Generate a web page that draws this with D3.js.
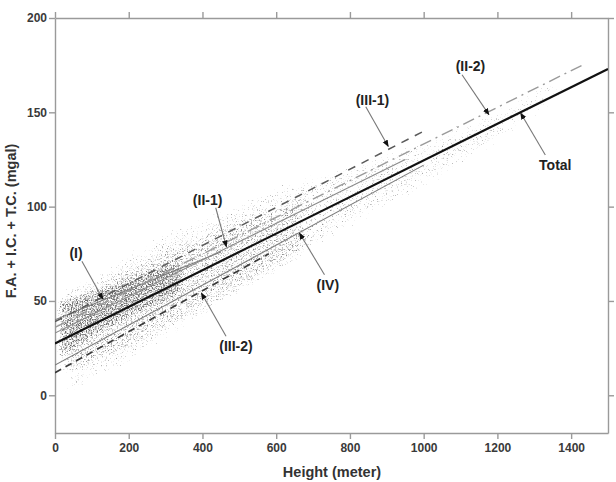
<!DOCTYPE html>
<meta charset="utf-8">
<title>F.A. + I.C. + T.C. vs Height</title>
<style>
body { margin: 0; background: #fff; }
svg text { font-family: "Liberation Sans", Arial, sans-serif; font-weight: bold; }
.axis path, .axis line { stroke: #9a9a9a; stroke-width: 1.4px; }
.axis text { fill: #3a3a3a; font-size: 12px; }
</style>
<svg id="chart" width="616" height="482"></svg>
<script src="https://cdn.jsdelivr.net/npm/d3@7"></script>
<script>
'use strict';

// axes
const xTicks = [0, 200, 400, 600, 800, 1000, 1200, 1400];
const yTicks = [0, 50, 100, 150, 200];

// regression lines: name, start/end height, start/end value
const lineNames = ["(III-2)", "(IV)", "(I)", "(II-1)", "(II-2)", "(III-1)", "Total"];
const lineH0 = [0, 0, 0, 0, 0, 0, 0];
const lineH1 = [580, 1000, 450, 950, 1430, 1000, 1500];
const lineV0 = [12, 16, 40, 33, 36, 39, 27.5];
const lineV1 = [75, 122, 76, 125, 175, 140, 173];

// envelope of the scatter cloud (outer, core, densest)
const cloudH   = [0, 50, 100, 200, 300, 400, 500, 600, 700, 800, 900, 1000, 1200, 1400];
const cloudTop = [62, 65, 70, 82, 92, 100, 108, 116, 122, 128, 134, 140, 157, 176];
const cloudBot = [-9, -4, 1, 11, 23, 35, 47, 59, 71, 83, 94, 104, 128, 158];
const coreH   = [0, 50, 100, 200, 300, 400, 500, 600, 700];
const coreTop = [57, 59, 63, 73, 82, 90, 98, 105, 111];
const coreBot = [3, 7, 12, 20, 30, 40, 51, 62, 74];
const denseH   = [0, 30, 80, 150, 250, 350];
const denseTop = [52, 53, 56, 61, 68, 75];
const denseBot = [16, 19, 25, 33, 43, 53];

// labels and arrows
const labelText = ["(I)", "(II-1)", "(II-2)", "(III-1)", "(III-2)", "(IV)", "Total"];
const labelH = [57, 414, 1127, 861, 491, 740, 1357];
const labelV = [75.6, 103.6, 174.3, 156.6, 26, 58.6, 122.1];
const arrowFromH = [73, 436, 1104, 843, 464, 731, 1330];
const arrowFromV = [71, 99.4, 169.9, 153, 31.3, 63.9, 127.4];
const arrowToH = [130, 465, 1177, 904, 397, 663, 1263];
const arrowToV = [51, 78.7, 148.8, 131.9, 54.2, 86, 149.6];

const margin = {top: 18, right: 8, bottom: 49, left: 55},
      width = 616 - margin.left - margin.right,
      height = 482 - margin.top - margin.bottom;

const x = d3.scaleLinear().domain([0, 1500]).range([0, width]);
const y = d3.scaleLinear().domain([-20, 200]).range([height, 0]);

const svg = d3.select("#chart");
const defs = svg.append("defs");

defs.append("clipPath").attr("id", "plotclip")
  .append("rect").attr("width", width).attr("height", height);

// speckle filters: noise thresholded inside a blurred mask
function speckle(id, blur, thr, seed, grey) {
  const f = defs.append("filter").attr("id", id)
      .attr("filterUnits", "userSpaceOnUse")
      .attr("x", -10).attr("y", -10).attr("width", width + 20).attr("height", height + 20);
  f.append("feGaussianBlur").attr("in", "SourceAlpha").attr("stdDeviation", blur).attr("result", "b");
  f.append("feTurbulence").attr("type", "fractalNoise").attr("baseFrequency", 0.8)
      .attr("numOctaves", 2).attr("seed", seed).attr("result", "n");
  f.append("feColorMatrix").attr("in", "n").attr("type", "matrix")
      .attr("values", "0 0 0 0 0  0 0 0 0 0  0 0 0 0 0  1 0 0 0 0").attr("result", "nr");
  f.append("feComposite").attr("in", "b").attr("in2", "nr").attr("operator", "arithmetic")
      .attr("k1", 0).attr("k2", 0.5).attr("k3", 0.5).attr("k4", 0).attr("result", "s");
  const ct = f.append("feComponentTransfer").attr("in", "s");
  ct.append("feFuncR").attr("type", "linear").attr("slope", 0).attr("intercept", grey);
  ct.append("feFuncG").attr("type", "linear").attr("slope", 0).attr("intercept", grey);
  ct.append("feFuncB").attr("type", "linear").attr("slope", 0).attr("intercept", grey);
  ct.append("feFuncA").attr("type", "linear").attr("slope", 8).attr("intercept", -8 * thr);
}
speckle("spkOuter", 10, 0.80, 7, 0.3);
speckle("spkCore", 8, 0.775, 11, 0.25);
speckle("spkDense", 5, 0.72, 3, 0.15);

defs.append("marker").attr("id", "head")
    .attr("viewBox", "0 0 10 10").attr("refX", 9).attr("refY", 5)
    .attr("markerWidth", 7).attr("markerHeight", 7)
    .attr("markerUnits", "userSpaceOnUse").attr("orient", "auto")
  .append("path").attr("d", "M0,1L10,5L0,9Z").attr("fill", "#111");

const g = svg.append("g").attr("transform", `translate(${margin.left},${margin.top})`);

// scatter cloud
const band = (hs, tops, bots) => {
  const pts = hs.map((h, i) => [x(h), y(tops[i])])
    .concat(hs.map((h, i) => [x(h), y(bots[i])]).reverse());
  return d3.line().curve(d3.curveCardinalClosed.tension(0.4))(pts);
};
const cloud = g.append("g").attr("clip-path", "url(#plotclip)");
cloud.append("path").attr("d", band(cloudH, cloudTop, cloudBot)).attr("fill", "#000").attr("filter", "url(#spkOuter)");
cloud.append("path").attr("d", band(coreH, coreTop, coreBot)).attr("fill", "#000").attr("filter", "url(#spkCore)");
cloud.append("path").attr("d", band(denseH, denseTop, denseBot)).attr("fill", "#000").attr("filter", "url(#spkDense)");

// axes
g.append("g").attr("class", "axis").attr("transform", `translate(0,${height})`)
  .call(d3.axisBottom(x).tickValues(xTicks).tickFormat(d3.format("d")).tickSize(6).tickSizeOuter(0).tickPadding(4));
g.append("g").attr("class", "axis")
  .call(d3.axisTop(x).tickValues(xTicks).tickSize(6).tickSizeOuter(0).tickFormat(""));
g.append("g").attr("class", "axis")
  .call(d3.axisLeft(y).tickValues(yTicks).tickSize(6).tickSizeOuter(0).tickPadding(2));
g.append("g").attr("class", "axis").attr("transform", `translate(${width},0)`)
  .call(d3.axisRight(y).tickValues(yTicks).tickSize(6).tickSizeOuter(0).tickFormat(""));

// regression lines
const lineStyle = {
  "(III-2)": {stroke: "#3a3a3a", w: 1.7, dash: "7,5"},
  "(IV)":    {stroke: "#7a7a7a", w: 1.1, dash: null},
  "(I)":     {stroke: "#7a7a7a", w: 1.1, dash: null},
  "(II-1)":  {stroke: "#8a8a8a", w: 1.1, dash: null},
  "(II-2)":  {stroke: "#9a9a9a", w: 1.4, dash: "12,5,2,5"},
  "(III-1)": {stroke: "#5a5a5a", w: 1.5, dash: "8,7"},
  "Total":   {stroke: "#111",    w: 2.2, dash: null}
};
const seg = d3.line().x(d => x(d[0])).y(d => y(d[1]));
g.append("g").attr("clip-path", "url(#plotclip)")
  .selectAll("path").data(lineNames).join("path")
    .attr("d", (d, i) => seg([[lineH0[i], lineV0[i]], [lineH1[i], lineV1[i]]]))
    .attr("fill", "none")
    .attr("stroke", d => lineStyle[d].stroke)
    .attr("stroke-width", d => lineStyle[d].w)
    .attr("stroke-dasharray", d => lineStyle[d].dash);

// annotations
g.append("g").selectAll("line").data(labelText).join("line")
    .attr("x1", (d, i) => x(arrowFromH[i])).attr("y1", (d, i) => y(arrowFromV[i]))
    .attr("x2", (d, i) => x(arrowToH[i])).attr("y2", (d, i) => y(arrowToV[i]))
    .attr("stroke", "#777").attr("stroke-width", 1.1)
    .attr("marker-end", "url(#head)");
g.append("g").selectAll("text").data(labelText).join("text")
    .attr("x", (d, i) => x(labelH[i])).attr("y", (d, i) => y(labelV[i]))
    .attr("dy", "0.35em").attr("text-anchor", "middle")
    .attr("font-size", 14).attr("fill", "#222")
    .text(d => d);

// axis titles
svg.append("text")
    .attr("x", 332).attr("y", 472).attr("dy", "0.35em").attr("text-anchor", "middle")
    .attr("font-size", 14.5).attr("fill", "#333")
    .text("Height (meter)");
svg.append("text")
    .attr("transform", "translate(11,221) rotate(-90)")
    .attr("dy", "0.35em").attr("text-anchor", "middle")
    .attr("font-size", 14.5).attr("fill", "#333")
    .text("F.A. + I.C. + T.C. (mgal)");
</script>
